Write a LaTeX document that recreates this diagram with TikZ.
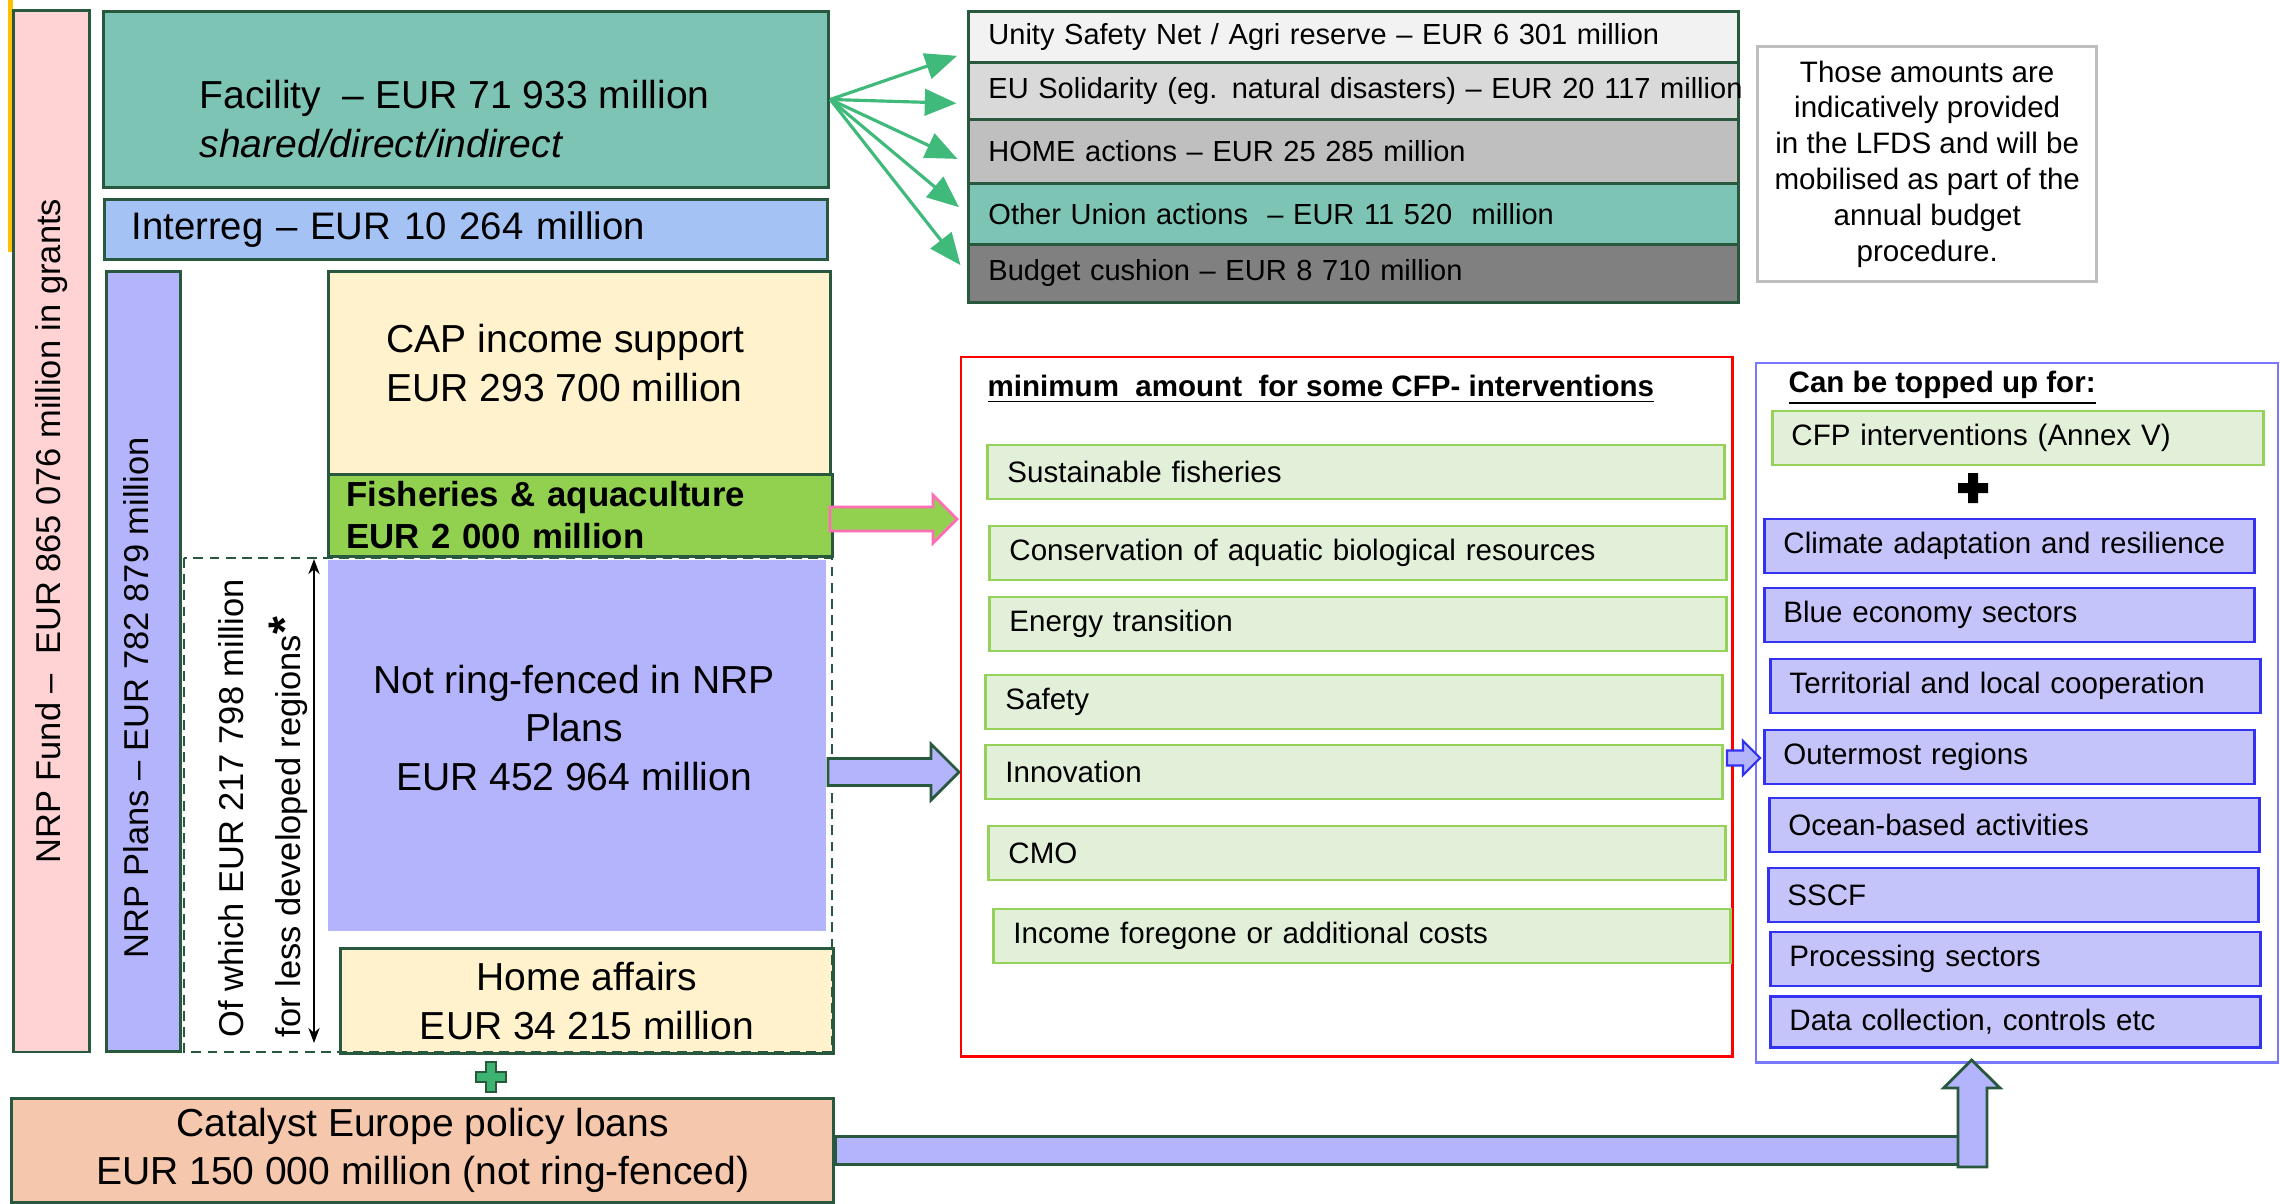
\documentclass[tikz,border=0pt]{standalone}
\usepackage{fontspec}
\setmainfont{Liberation Sans}
\usetikzlibrary{arrows.meta,positioning}

\definecolor{edgegreen}{RGB}{40,88,62}
\definecolor{tealbox}{RGB}{125,196,180}
\definecolor{interblue}{RGB}{164,194,244}
\definecolor{fundpink}{RGB}{255,211,211}
\definecolor{plansviolet}{RGB}{180,180,252}
\definecolor{creambox}{RGB}{255,242,204}
\definecolor{fishgreen}{RGB}{146,208,80}
\definecolor{loanpeach}{RGB}{245,199,172}
\definecolor{palegreen}{RGB}{226,239,217}
\definecolor{linegreen}{RGB}{150,210,90}
\definecolor{topviolet}{RGB}{196,196,250}
\definecolor{topblue}{RGB}{50,50,240}
\definecolor{frameblue}{RGB}{120,120,255}
\definecolor{arrowgreen}{RGB}{64,186,122}
\definecolor{plusgreen}{RGB}{60,179,113}
\definecolor{hotpink}{RGB}{255,110,180}
\definecolor{goldline}{RGB}{255,192,0}
\definecolor{notegray}{RGB}{190,190,190}
\definecolor{stackwhite}{RGB}{242,242,242}
\definecolor{stacklight}{RGB}{217,217,217}
\definecolor{stackmid}{RGB}{191,191,191}
\definecolor{stackdark}{RGB}{128,128,128}

\begin{document}
\begin{tikzpicture}[x = 0.01cm, y = -0.01cm,
  box/.style = {draw = edgegreen, line width = 0.8pt, inner sep = 0pt, anchor = north west},
  bigtext/.style = {font = \fontsize{11.1}{13.7}\selectfont},
  smalltext/.style = {font = \fontsize{8.4}{10.2}\selectfont},
  titletext/.style = {font = \fontsize{8.4}{10.2}\selectfont\bfseries, anchor = west, inner sep = 0pt},
  rottext/.style = {rotate = 90, inner sep = 0pt, font = \fontsize{9.8}{16}\selectfont},
  stackbox/.style = {box, font = \fontsize{8.25}{10}\selectfont, text width = 7.3cm, inner xsep = 0.2cm, align = left},
  cfpitem/.style = {draw = linegreen, line width = 0.8pt, fill = palegreen, anchor = west, smalltext,
    text width = 6.97cm, inner xsep = 0.2cm, inner ysep = 0pt, minimum height = 0.54cm, align = left},
  topupitem/.style = {draw = topblue, line width = 0.8pt, fill = topviolet, anchor = west, smalltext,
    text width = 4.52cm, inner xsep = 0.19cm, inner ysep = 0pt, minimum height = 0.54cm, align = left},
  fanarrow/.style = {-{Triangle[length = 9pt, width = 7.5pt]}, draw = arrowgreen, line width = 0.9pt, shorten >=3pt},
  fatarrow/.style = {line width = 0.8pt, line join = miter},
  loanarrow/.style = {draw = edgegreen, fill = plansviolet, line width = 0.8pt}]

\useasboundingbox (0,0) rectangle (2280,1203);
\fill[white] (0,0) rectangle (2280,1203);
\fill[goldline] (8,0) rectangle (13,252);

% left column
\node[box, fill = fundpink, minimum width = 0.76cm, minimum height = 10.41cm] (fund) at (12,9) {};
\node[rottext] (fundtxt) at (fund.center) {NRP Fund –~ EUR 865 076 million in grants};
\node[box, fill = tealbox, minimum width = 7.25cm, minimum height = 1.76cm] (facility) at (102,10) {};
\node[bigtext, anchor = west, align = left, inner sep = 0pt] (facilitytxt) at (199,119) {Facility~ – EUR 71 933 million\\ \textit{shared/direct/indirect}};
\node[box, fill = interblue, font = \fontsize{10.9}{13.4}\selectfont, minimum height = 0.6cm, text width = 6.69cm, inner xsep = 0.27cm, align = left] (interreg) at (103,198) {Interreg – EUR 10 264 million};
\node[box, fill = plansviolet, minimum width = 0.74cm, minimum height = 7.8cm] (plans) at (105,270) {};
\node[rottext] (planstxt) at (136,698) {NRP Plans – EUR 782 879 million};
\node[box, fill = creambox, minimum width = 5.02cm, minimum height = 2.03cm] (cap) at (327,270) {};
\node[bigtext, anchor = west, align = left, inner sep = 0pt] (captxt) at (386,363) {CAP income support\\EUR 293 700 million};
\node[box, fill = fishgreen, minimum height = 0.82cm, text width = 4.68cm, inner xsep = 0.18cm, align = left, font = \fontsize{9.9}{11.9}\selectfont\bfseries] (fish) at (327,473) {Fisheries \& aquaculture\\EUR 2 000 million};
\node[box, draw = none, fill = plansviolet, minimum width = 4.97cm, minimum height = 3.7cm] (notring) at (327,559) {};
\node[bigtext, align = center] (notringtxt) at (574,728) {Not ring-fenced in NRP\\Plans\\EUR 452 964 million};
\node[box, fill = creambox, bigtext, align = center, minimum width = 4.93cm, minimum height = 1.05cm] (home) at (339,947) {Home affairs\\EUR 34 215 million};
\draw[edgegreen, line width = 0.8pt, dash pattern = on 2.8pt off 1.8pt] (184,558) rectangle (832,1052);
\node[rottext, anchor = west, align = left] (lesstxt) at (263,1038) {Of which EUR 217 798 million\\for less developed regions{\bfseries\fontsize{13}{13}\selectfont *}};
\coordinate (lesstop) at (314,559);
\coordinate (lessbot) at (314,1043);
\draw[{Stealth[length = 4.3pt, width = 3.2pt]}-{Stealth[length = 4.3pt, width = 3.2pt]}, line width = 0.45pt] (lesstop) -- (lessbot);

% plus and loans
\draw[fill = plusgreen, draw = edgegreen, line width = 0.6pt] (491,1077) ++(-5,-15) -- ++(10,0) -- ++(0,10) -- ++(10,0) -- ++(0,10) -- ++(-10,0) -- ++(0,10) -- ++(-10,0) -- ++(0,-10) -- ++(-10,0) -- ++(0,-10) -- ++(10,0) -- cycle;
\node[box, fill = loanpeach, bigtext, align = center, minimum width = 8.22cm, minimum height = 1.04cm] (catalyst) at (10,1097) {Catalyst Europe policy loans\\EUR 150 000 million (not ring-fenced)};

% top right stack
\node[stackbox, fill = stackwhite, minimum height = 0.51cm] (unity) at (967,10) {Unity Safety Net / Agri reserve – EUR 6 301 million};
\node[stackbox, fill = stacklight, minimum height = 0.57cm] (eusol) at (967,61) {\mbox{EU Solidarity (eg. natural disasters) – EUR 20 117 million}};
\node[stackbox, fill = stackmid, minimum height = 0.64cm] (homeact) at (967,118) {HOME actions – EUR 25 285 million};
\node[stackbox, fill = tealbox, minimum height = 0.61cm] (otheract) at (967,182) {Other Union actions~ – EUR 11 520~ million};
\node[stackbox, fill = stackdark, minimum height = 0.58cm] (cushion) at (967,243) {Budget cushion – EUR 8 710 million};
\foreach \target/\shift in {unity/-4.4pt, eusol/-3.6pt, homeact/-3.4pt, otheract/0pt, cushion/0pt}
  \draw[fanarrow] (facility.east) -- ([yshift = \shift]\target.west);

\node[draw = notegray, line width = 0.9pt, fill = white, smalltext, align = center, anchor = north west,
  minimum width = 3.39cm, minimum height = 2.35cm, inner sep = 0pt] (note) at (1756,45)
  {Those amounts are\\indicatively provided\\in the LFDS and will be\\mobilised as part of the\\annual budget\\procedure.};

% minimum amounts
\node[draw = red, line width = 0.6pt, anchor = north west, minimum width = 7.71cm, minimum height = 6.99cm, inner sep = 0pt] (minbox) at (960,356) {};
\node[titletext] (mintitle) at (987,389) {\underline{minimum~ amount~ for some CFP- interventions}};
\node[cfpitem] (sustain) at (986,472) {Sustainable fisheries};
\node[cfpitem] (conserve) at (988,553) {Conservation of aquatic biological resources};
\node[cfpitem] (energy) at (988,624) {Energy transition};
\node[cfpitem] (safety) at (984,702) {Safety};
\node[cfpitem] (innov) at (984,772) {Innovation};
\node[cfpitem] (cmo) at (987,853) {CMO};
\node[cfpitem] (income) at (992,936) {Income foregone or additional costs};

% top-ups
\node[draw = frameblue, line width = 0.6pt, anchor = north west, minimum width = 5.22cm, minimum height = 6.99cm, inner sep = 0pt] (topup) at (1755,362) {};
\node[titletext] (topuptitle) at (1788,388) {\underline{Can be topped up for:}};
\node[cfpitem, text width = 4.53cm, inner xsep = 0.19cm] (annex) at (1771,438) {CFP interventions (Annex V)};
\fill (1973,488) ++(-5,-15) -- ++(10,0) -- ++(0,10) -- ++(10,0) -- ++(0,10) -- ++(-10,0) -- ++(0,10) -- ++(-10,0) -- ++(0,-10) -- ++(-10,0) -- ++(0,-10) -- ++(10,0) -- cycle;
\node[topupitem] (climate) at (1763,546) {Climate adaptation and resilience};
\node[topupitem] (blue) at (1763,615) {Blue economy sectors};
\node[topupitem] (territ) at (1769,686) {Territorial and local cooperation};
\node[topupitem] (outer) at (1763,757) {Outermost regions};
\node[topupitem] (ocean) at (1768,825) {Ocean-based activities};
\node[topupitem] (sscf) at (1767,895) {SSCF};
\node[topupitem] (process) at (1769,959) {Processing sectors};
\node[topupitem, minimum height = 0.51cm] (datacoll) at (1769,1022) {Data collection, controls etc};

% block arrows
\coordinate (fishtail) at (830,519);
\coordinate (planstail) at (828,772);
\coordinate (mintail) at (1727,758);
\draw[fatarrow, draw = hotpink, fill = fishgreen] (fishtail) ++(0,-12) -- ++(103,0) -- ++(0,-12) -- ++(24,24) -- ++(-24,24) -- ++(0,-12) -- ++(-103,0) -- cycle;
\draw[fatarrow, draw = edgegreen, fill = plansviolet] (planstail) ++(0,-13.5) -- ++(103,0) -- ++(0,-14.5) -- ++(28,28) -- ++(-28,28) -- ++(0,-14.5) -- ++(-103,0) -- cycle;
\draw[fatarrow, draw = topblue, fill = plansviolet, line width = 0.6pt] (mintail) ++(0,-7.5) -- ++(16,0) -- ++(0,-9.5) -- ++(17,17) -- ++(-17,17) -- ++(0,-9.5) -- ++(-16,0) -- cycle;
\draw[loanarrow] ([yshift = 4pt]catalyst.east) rectangle ++(1126,28);
\coordinate (loantip) at (1971.5,1060);
\draw[loanarrow] (loantip) -- ++(28.5,28) -- ++(-13,0) -- ++(0,79) -- ++(-29,0) -- ++(0,-79) -- ++(-14.5,0) -- cycle;
\end{tikzpicture}
\end{document}
